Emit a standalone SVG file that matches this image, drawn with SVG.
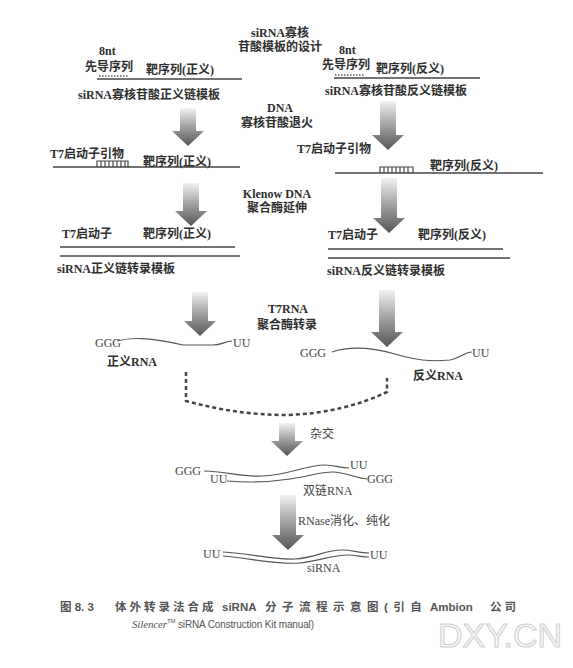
<svg xmlns="http://www.w3.org/2000/svg" width="573" height="668" viewBox="0 0 573 668">
<defs>
<linearGradient id="ag" x1="0" y1="0" x2="0" y2="1">
<stop offset="0" stop-color="#f2f2f2"/>
<stop offset="0.45" stop-color="#a8a8a8"/>
<stop offset="1" stop-color="#555"/>
</linearGradient>
<style>
.t{font-family:"Liberation Serif","Noto Sans CJK SC",serif;font-size:12px;font-weight:bold;fill:#2e2e2e}
.r{font-family:"Liberation Serif","Noto Sans CJK SC",serif;font-size:12px;fill:#444}
.c{font-family:"Liberation Sans","Noto Sans CJK SC",sans-serif;font-size:11.5px;font-weight:bold;fill:#555}
.c2{font-family:"Liberation Sans",sans-serif;font-size:10px;fill:#555}
.m{text-anchor:middle}
.ln{stroke:#444;stroke-width:1.3;fill:none}
.dot{stroke:#555;stroke-width:1.5;stroke-dasharray:1.5 1.5;fill:none}
.lad{stroke:#444;stroke-width:1.2;fill:none}
.rna{stroke:#555;stroke-width:1.2;fill:none}
.dash{stroke:#444;stroke-width:2.5;stroke-dasharray:4 3;fill:none}
.arr{fill:url(#ag)}
.wm{font-family:"Liberation Sans",sans-serif;font-size:34px;fill:#f7f7f7;stroke:#cfcfcf;stroke-width:1}
</style>
</defs>
<rect width="573" height="668" fill="#fff"/>

<g id="title">
<text class="t m" x="280" y="37">siRNA寡核</text>
<text class="t m" x="280" y="51">苷酸模板的设计</text>
</g>

<g id="sense-template">
<text class="t" x="99" y="55" font-size="10">8nt</text>
<text class="t" x="85" y="71" fill="#666">先导序列</text>
<text class="t" x="146" y="74">靶序列(正义)</text>
<line class="ln" x1="97" y1="79" x2="242" y2="79"/>
<line class="dot" x1="99" y1="76" x2="129" y2="76"/>
<text class="t" x="78" y="99">siRNA寡核苷酸正义链模板</text>
</g>

<g id="antisense-template">
<text class="t" x="339" y="54" font-size="10">8nt</text>
<text class="t" x="322" y="69" fill="#666">先导序列</text>
<text class="t" x="376" y="73">靶序列(反义)</text>
<line class="ln" x1="334" y1="78" x2="480" y2="78"/>
<line class="dot" x1="335" y1="75" x2="365" y2="75"/>
<text class="t" x="325" y="95">siRNA寡核苷酸反义链模板</text>
</g>

<g id="step-anneal">
<text class="t m" x="280" y="112">DNA</text>
<text class="t m" x="277" y="127">寡核苷酸退火</text>
</g>

<g id="sense-primer">
<text class="t" x="50" y="158">T7启动子引物</text>
<line class="ln" x1="53" y1="167" x2="240" y2="167"/>
<path class="lad" d="M97,167 V161 H128 V167 M101,161 V167 M105,161 V167 M109,161 V167 M113,161 V167 M117,161 V167 M121,161 V167 M125,161 V167"/>
<text class="t" x="143" y="166">靶序列(正义)</text>
</g>

<g id="antisense-primer">
<text class="t" x="297" y="153">T7启动子引物</text>
<line class="ln" x1="335" y1="173" x2="543" y2="173"/>
<path class="lad" d="M380,173 V167 H413 V173 M384,167 V173 M388,167 V173 M392,167 V173 M396,167 V173 M400,167 V173 M404,167 V173 M408,167 V173"/>
<text class="t" x="430" y="170">靶序列(反义)</text>
</g>

<g id="step-klenow">
<text class="t m" x="277" y="198">Klenow DNA</text>
<text class="t m" x="277" y="212">聚合酶延伸</text>
</g>

<g id="sense-transcription-template">
<text class="t" x="62" y="238">T7启动子</text>
<text class="t" x="143" y="238">靶序列(正义)</text>
<line class="ln" x1="60" y1="247" x2="235" y2="247"/>
<line class="ln" x1="60" y1="256" x2="240" y2="256"/>
<text class="t" x="57" y="273">siRNA正义链转录模板</text>
</g>

<g id="antisense-transcription-template">
<text class="t" x="328" y="239">T7启动子</text>
<text class="t" x="418" y="239">靶序列(反义)</text>
<line class="ln" x1="328" y1="249" x2="503" y2="249"/>
<line class="ln" x1="328" y1="258" x2="510" y2="258"/>
<text class="t" x="327" y="275">siRNA反义链转录模板</text>
</g>

<g id="step-t7rna">
<text class="t m" x="288" y="313">T7RNA</text>
<text class="t m" x="287" y="329">聚合酶转录</text>
</g>

<g id="sense-rna">
<text class="r" x="95" y="347">GGG</text>
<path class="rna" d="M117,341 C135,336 155,339 183,345 L213,345 C222,345 225,341 232,341"/>
<text class="r" x="233" y="347">UU</text>
<text class="t" x="107" y="366" font-weight="normal">正义RNA</text>
</g>

<g id="antisense-rna">
<text class="r" x="300" y="357">GGG</text>
<path class="rna" d="M332,352 C350,346 370,347 395,354 C415,360 430,362 450,360 C460,358 465,352 472,352"/>
<text class="r" x="472" y="357">UU</text>
<text class="t" x="413" y="380" font-weight="normal">反义RNA</text>
</g>

<g id="step-hybrid">
<text class="r" x="310" y="438">杂交</text>
</g>

<g id="dsrna">
<text class="r" x="175" y="475">GGG</text>
<path class="rna" d="M204,471 C225,471 240,477 262,476 C290,475 305,465 325,465 C335,465 340,468 349,468"/>
<text class="r" x="350" y="469">UU</text>
<text class="r" x="210" y="483">UU</text>
<path class="rna" d="M227,481 C250,483 270,482 290,479 C310,476 320,472 333,472 C345,472 355,478 367,479"/>
<text class="r" x="367" y="483">GGG</text>
<text class="r" x="303" y="495">双链RNA</text>
</g>

<g id="step-rnase">
<text class="r" x="298" y="525">RNase消化、纯化</text>
</g>

<g id="sirna">
<text class="r" x="203" y="558">UU</text>
<path class="rna" d="M223,552 C250,553 270,560 295,559 C315,558 325,550 342,550 C352,550 358,553 369,553"/>
<path class="rna" d="M223,556 C250,558 275,565 300,563 C320,561 332,555 348,555 C356,555 362,557 369,557"/>
<text class="r" x="370" y="559">UU</text>
<text class="r" x="307" y="572">siRNA</text>
</g>

<g id="connectors">
<path class="arr" d="M180,108 H196 V131 H204 L188,146 L172,131 H180 Z"/>
<path class="arr" d="M380,101 H396 V135 H404 L388,150 L372,135 H380 Z"/>
<path class="arr" d="M183,183 H199 V211 H207 L191,226 L175,211 H183 Z"/>
<path class="arr" d="M381,178 H397 V218 H405 L389,233 L373,218 H381 Z"/>
<path class="arr" d="M192,292 H208 V321 H216 L200,336 L184,321 H192 Z"/>
<path class="arr" d="M379,290 H395 V332 H403 L387,347 L371,332 H379 Z"/>
<path class="arr" d="M279,423 H295 V441 H303 L287,456 L271,441 H279 Z"/>
<path class="arr" d="M280,495 H296 V535 H304 L288,550 L272,535 H280 Z"/>
<path class="dash" d="M186,372 V401 C220,410 250,415 287,415 C325,414 360,405 387,392 V378"/>
</g>

<g id="caption">
<text class="c" y="611"><tspan x="60">图 8. 3</tspan><tspan x="115" letter-spacing="3">体外转录法合成</tspan><tspan x="222">siRNA</tspan><tspan x="265" letter-spacing="5.5">分子流程示意图(引自</tspan><tspan x="430">Ambion</tspan><tspan x="490" letter-spacing="3">公司</tspan></text>
<text class="c2" x="132" y="628" textLength="182" lengthAdjust="spacing"><tspan font-style="italic" font-family="Liberation Serif,serif" font-size="11">Silencer</tspan><tspan font-size="6" dy="-5">TM</tspan><tspan dy="5"> siRNA Construction Kit manual)</tspan></text>
</g>

<text class="wm" x="438" y="647" textLength="124" lengthAdjust="spacing">DXY.CN</text>
</svg>
